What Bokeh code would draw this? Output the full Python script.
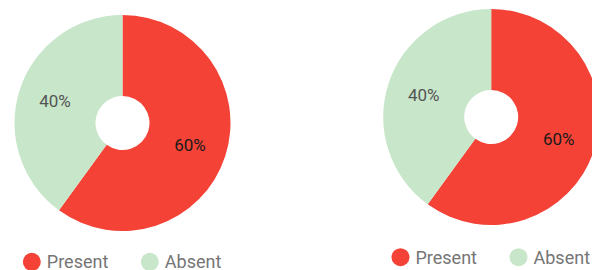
import math
from bokeh.plotting import figure
from bokeh.models import Range1d
from bokeh.core.properties import value
from bokeh.embed import file_html
from bokeh.resources import INLINE

categories = ["Present", "Absent"]
left_values = [60, 40]
right_values = [60, 40]
colors = ["#F44336", "#C8E6C9"]
label_colors = ["#1a1a1a", "#555555"]

W, H = 592, 270
p = figure(width=W, height=H, output_backend="svg", toolbar_location=None,
           x_range=Range1d(0, W), y_range=Range1d(0, H),
           min_border=0, outline_line_color=None)
p.axis.visible = False
p.grid.visible = False
p.background_fill_color = "white"
p.border_fill_color = "white"

def py(page_y):
    return H - page_y

def donut(cx, cy, vals):
    total = float(sum(vals))
    a = math.pi / 2
    starts, ends, mids = [], [], []
    for v in vals:
        span = 2 * math.pi * v / total
        starts.append(a - span)
        ends.append(a)
        mids.append(a - span / 2)
        a -= span
    p.annular_wedge(x=[cx] * len(vals), y=[py(cy)] * len(vals),
                    inner_radius=27, outer_radius=108,
                    inner_radius_units="screen", outer_radius_units="screen",
                    start_angle=starts, end_angle=ends,
                    fill_color=colors, line_color=None)
    lr = 71
    xs = [cx + lr * math.cos(m) for m in mids]
    ys = [py(cy) + lr * math.sin(m) for m in mids]
    texts = ["%d%%" % round(100 * v / total) for v in vals]
    p.text(x=xs, y=ys, text=texts, text_align="center", text_baseline="middle",
           text_font=value("Roboto"), text_font_size="17px", text_color=label_colors)

def legend(x0, ly):
    cxs = [x0, x0 + 118]
    p.scatter(x=cxs, y=[py(ly)] * 2, size=18, marker="circle",
              fill_color=colors, line_color=None)
    p.text(x=[c + 15 for c in cxs], y=[py(ly)] * 2, text=categories,
           text_align="left", text_baseline="middle",
           text_font=value("Roboto"), text_font_size="18px", text_color="#757575")

donut(122, 122.5, left_values)
donut(490.7, 116.5, right_values)
legend(31.3, 261.3)
legend(400, 256.7)

open("out.html", "w").write(file_html(p, INLINE))
